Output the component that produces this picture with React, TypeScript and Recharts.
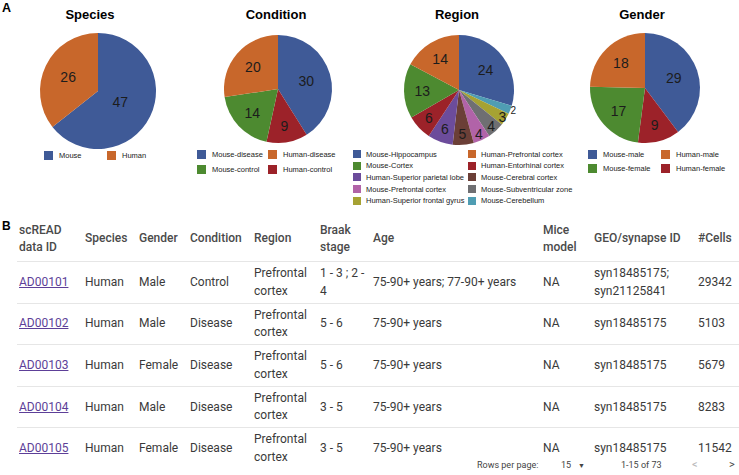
import React from "react"
import { Cell, Pie, PieChart } from "recharts"

// pie data, in clockwise order from 12 o'clock
const speciesNames = ["Mouse", "Human"]
const speciesCounts = [47, 26]

const conditionNames = ["Mouse-disease", "Human-control", "Mouse-control", "Human-disease"]
const conditionCounts = [30, 9, 14, 20]

const regionNames = [
  "Mouse-Hippocampus",
  "Mouse-Cerebellum",
  "Human-Superior frontal gyrus",
  "Mouse-Subventricular zone",
  "Mouse-Prefrontal cortex",
  "Mouse-Cerebral cortex",
  "Human-Superior parietal lobe",
  "Human-Entorhinal cortex",
  "Mouse-Cortex",
  "Human-Prefrontal cortex",
]
const regionCounts = [24, 2, 3, 4, 4, 5, 6, 6, 13, 14]

const genderNames = ["Mouse-male", "Human-female", "Mouse-female", "Human-male"]
const genderCounts = [29, 9, 17, 18]

// legend order (row by row, two columns)
const speciesLegend = ["Mouse", "Human"]
const conditionLegend = ["Mouse-disease", "Human-disease", "Mouse-control", "Human-control"]
const regionLegendLeft = [
  "Mouse-Hippocampus",
  "Mouse-Cortex",
  "Human-Superior parietal lobe",
  "Mouse-Prefrontal cortex",
  "Human-Superior frontal gyrus",
]
const regionLegendRight = [
  "Human-Prefrontal cortex",
  "Human-Entorhinal cortex",
  "Mouse-Cerebral cortex",
  "Mouse-Subventricular zone",
  "Mouse-Cerebellum",
]
const genderLegend = ["Mouse-male", "Human-male", "Mouse-female", "Human-female"]

const BLUE = "#3f5a97"
const ORANGE = "#c8672b"
const GREEN = "#4d8a30"
const RED = "#9c2229"

const colors: Record<string, string> = {
  Mouse: BLUE,
  Human: ORANGE,
  "Mouse-disease": BLUE,
  "Human-disease": ORANGE,
  "Mouse-control": GREEN,
  "Human-control": RED,
  "Mouse-male": BLUE,
  "Human-male": ORANGE,
  "Mouse-female": GREEN,
  "Human-female": RED,
  "Mouse-Hippocampus": BLUE,
  "Human-Prefrontal cortex": ORANGE,
  "Mouse-Cortex": GREEN,
  "Human-Entorhinal cortex": RED,
  "Human-Superior parietal lobe": "#6c4c9b",
  "Mouse-Cerebral cortex": "#6b3f37",
  "Mouse-Prefrontal cortex": "#b163a8",
  "Mouse-Subventricular zone": "#6f6f72",
  "Human-Superior frontal gyrus": "#a6a233",
  "Mouse-Cerebellum": "#4f9db3",
}

// table
const ids = ["AD00101", "AD00102", "AD00103", "AD00104", "AD00105"]
const tSpecies = ["Human", "Human", "Human", "Human", "Human"]
const tGender = ["Male", "Male", "Female", "Male", "Female"]
const tCondition = ["Control", "Disease", "Disease", "Disease", "Disease"]
const tRegion = ["Prefrontal cortex", "Prefrontal cortex", "Prefrontal cortex", "Prefrontal cortex", "Prefrontal cortex"]
const tBraak = ["1 - 3 ; 2 - 4", "5 - 6", "5 - 6", "3 - 5", "3 - 5"]
const tAge = ["75-90+ years; 77-90+ years", "75-90+ years", "75-90+ years", "75-90+ years", "75-90+ years"]
const tMice = ["NA", "NA", "NA", "NA", "NA"]
const tGeo = ["syn18485175; syn21125841", "syn18485175", "syn18485175", "syn18485175", "syn18485175"]
const tCells = [29342, 5103, 5679, 8283, 11542]
const headers = ["scREAD data ID", "Species", "Gender", "Condition", "Region", "Braak stage", "Age", "Mice model", "GEO/synapse ID", "#Cells"]

const colLeft = [19, 85, 139, 190, 254, 320, 373, 543, 594, 698]
const colWidth = [60, 50, 50, 62, 58, 50, 165, 45, 90, 40]

const RAD = Math.PI / 180
const fig = "'Liberation Sans', Arial, sans-serif"
const tableFont = "Roboto, 'Noto Sans', sans-serif"

const toData = (names: string[], counts: number[]) => names.map((n, i) => ({ name: n, value: counts[i] }))

// narrow slices get their number pushed towards the rim (and shrunk when tiny)
const renderLabel = (p: any) => {
  const tiny = p.percent < 0.03
  const f = tiny ? 1.06 : Math.min(0.95, Math.max(0.75 - 0.5 * p.percent, 1.12 - 5 * p.percent))
  const r = p.outerRadius * f
  const x = p.cx + r * Math.cos(-p.midAngle * RAD)
  const y = p.cy + r * Math.sin(-p.midAngle * RAD)
  return (
    <text x={x} y={y} textAnchor="middle" dominantBaseline="central" fontSize={tiny ? 10 : 14} fontFamily={fig} fill="#1c1c1c">
      {p.value}
    </text>
  )
}

function Swatch({ name, x, y, size = 9 }: { name: string; x: number; y: number; size?: number }) {
  return (
    <div style={{ position: "absolute", left: x, top: y - size / 2, height: size, display: "flex", alignItems: "center" }}>
      <div style={{ width: size, height: size, background: colors[name], marginRight: size < 9 ? 5 : 6 }} />
      <span style={{ fontSize: 7.5, color: "#222", whiteSpace: "nowrap" }}>{name}</span>
    </div>
  )
}

const Title = ({ text, x }: { text: string; x: number }) => (
  <div style={{ position: "absolute", left: x - 50, width: 100, top: 7, textAlign: "center", fontWeight: 700, fontSize: 13 }}>
    {text}
  </div>
)

export default function App() {
  const pies = [
    { data: toData(speciesNames, speciesCounts), cx: 93, cy: 86, r: 58 },
    { data: toData(conditionNames, conditionCounts), cx: 273, cy: 84, r: 54 },
    { data: toData(regionNames, regionCounts), cx: 454, cy: 85, r: 55 },
    { data: toData(genderNames, genderCounts), cx: 640, cy: 83, r: 55 },
  ]
  const rowTop = (i: number) => 261 + i * 41.6

  return (
    <div style={{ position: "absolute", left: 0, top: 0, width: 739, height: 475, background: "#fff", fontFamily: fig, overflow: "hidden" }}>
      <div style={{ position: "absolute", left: 2, top: 1, fontWeight: 700, fontSize: 12.5 }}>A</div>
      <Title text="Species" x={90} />
      <Title text="Condition" x={276} />
      <Title text="Region" x={457} />
      <Title text="Gender" x={642} />

      <PieChart width={739} height={150} style={{ position: "absolute", left: 0, top: 0 }}>
        {pies.map((p, k) => (
          <Pie
            key={k}
            data={p.data}
            dataKey="value"
            nameKey="name"
            cx={p.cx}
            cy={p.cy}
            outerRadius={p.r}
            startAngle={90}
            endAngle={-270}
            stroke="none"
            label={renderLabel}
            labelLine={false}
            isAnimationActive={false}
          >
            {p.data.map((d) => (
              <Cell key={d.name} fill={colors[d.name]} />
            ))}
          </Pie>
        ))}
      </PieChart>

      {speciesLegend.map((n, i) => (
        <Swatch key={n} name={n} x={i === 0 ? 44 : 107} y={155} />
      ))}
      {conditionLegend.map((n, i) => (
        <Swatch key={n} name={n} x={i % 2 === 0 ? 197 : 268} y={i < 2 ? 154 : 169} />
      ))}
      {regionLegendLeft.map((n, i) => (
        <Swatch key={n} name={n} x={353} y={154 + i * 11.7} size={8} />
      ))}
      {regionLegendRight.map((n, i) => (
        <Swatch key={n} name={n} x={468} y={154 + i * 11.7} size={8} />
      ))}
      {genderLegend.map((n, i) => (
        <Swatch key={n} name={n} x={i % 2 === 0 ? 588 : 661} y={i < 2 ? 154 : 168} />
      ))}

      <div style={{ position: "absolute", left: 2, top: 219, fontWeight: 700, fontSize: 12 }}>B</div>

      <div style={{ fontFamily: tableFont, fontSize: 12, lineHeight: "17.5px" }}>
        {headers.map((h, c) => (
          <div
            key={h}
            style={{
              position: "absolute",
              left: colLeft[c],
              width: colWidth[c],
              top: 217,
              height: 44,
              display: "flex",
              alignItems: "center",
              fontWeight: 500,
              color: "#4a4a4a",
            }}
          >
            {h}
          </div>
        ))}
        {[0, 1, 2, 3, 4].map((i) => (
          <div key={i} style={{ position: "absolute", left: 17, right: 0, top: rowTop(i), height: 1, background: "#e6e6e6" }} />
        ))}
        {ids.map((id, i) => {
          const vals = [id, tSpecies[i], tGender[i], tCondition[i], tRegion[i], tBraak[i], tAge[i], tMice[i], tGeo[i], String(tCells[i])]
          return vals.map((v, c) => (
            <div
              key={i + "-" + c}
              style={{
                position: "absolute",
                left: colLeft[c],
                width: colWidth[c],
                top: rowTop(i) + 1,
                height: 41,
                display: "flex",
                alignItems: "center",
                color: c === 0 ? "#5d3f98" : "#3a3a3a",
                textDecoration: c === 0 ? "underline" : "none",
              }}
            >
              {v}
            </div>
          ))
        })}
      </div>

      <div style={{ position: "absolute", top: 460, left: 0, width: 739, height: 14, fontFamily: tableFont, fontSize: 9, color: "#444" }}>
        <span style={{ position: "absolute", left: 477 }}>Rows per page:</span>
        <span style={{ position: "absolute", left: 561 }}>15</span>
        <span style={{ position: "absolute", left: 578, fontSize: 7, top: 1.5 }}>▼</span>
        <span style={{ position: "absolute", left: 621 }}>1-15 of 73</span>
        <span style={{ position: "absolute", left: 692, color: "#bbb", fontSize: 11, top: -2 }}>&lt;</span>
        <span style={{ position: "absolute", left: 729, color: "#444", fontSize: 11, top: -2 }}>&gt;</span>
      </div>
    </div>
  )
}
